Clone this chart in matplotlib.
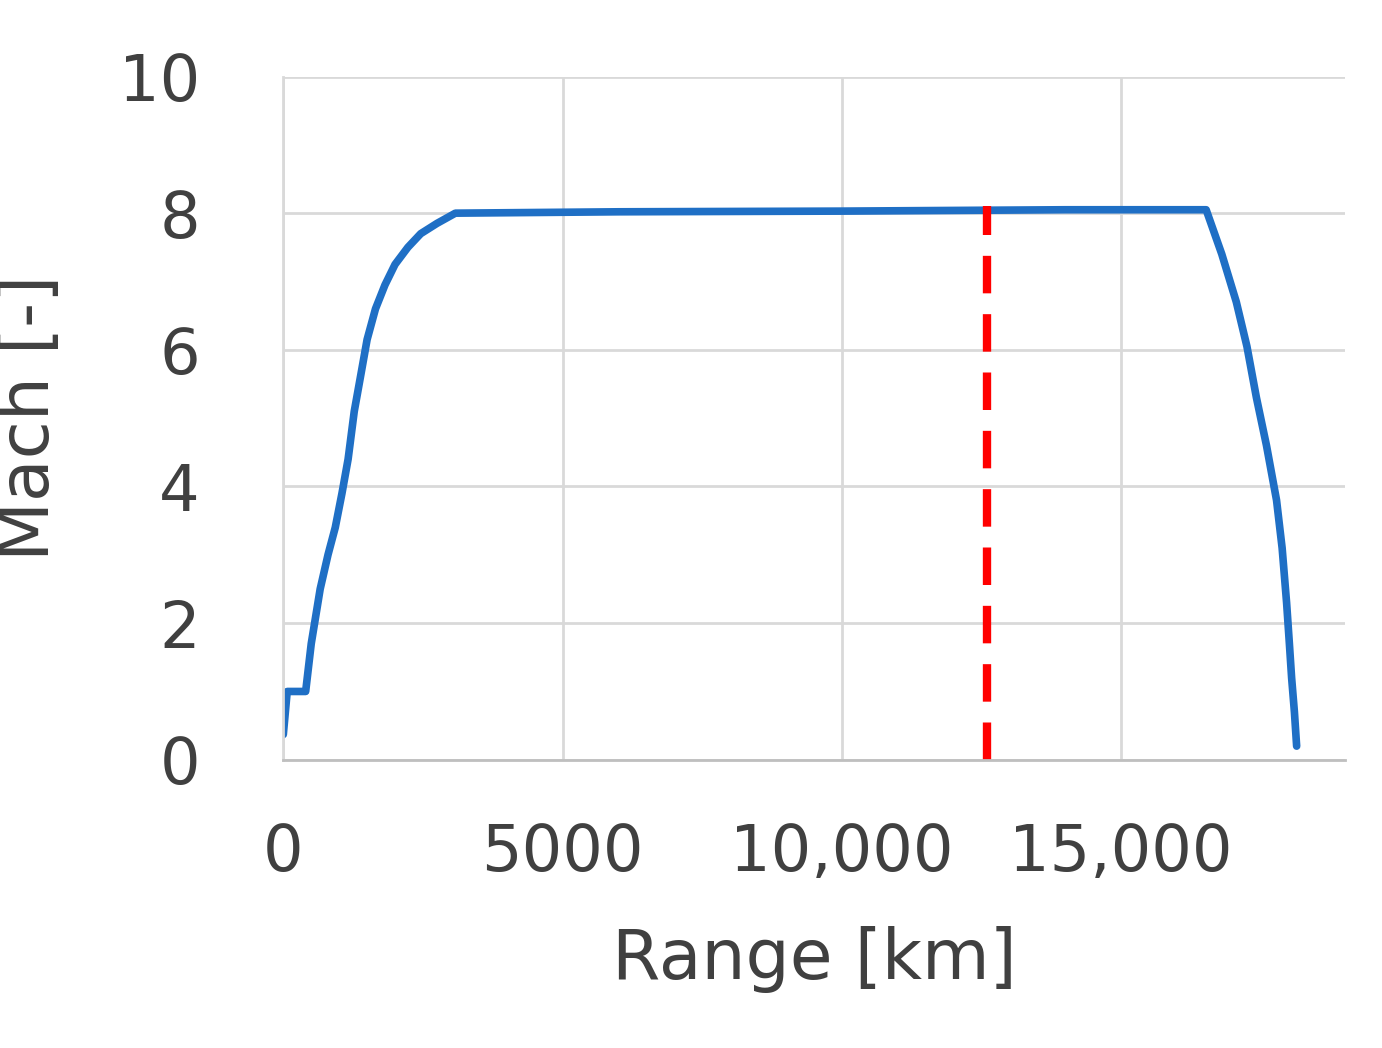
import matplotlib.pyplot as plt
from matplotlib.ticker import FuncFormatter

# Mach profile along the flight
range_km = [0, 70, 400, 500, 660, 800, 930, 1050, 1160, 1270, 1380, 1500, 1650, 1820, 2000,
            2230, 2460, 2750, 3080, 6000, 10000, 14000, 16520, 16800, 17060, 17250, 17420,
            17600, 17780, 17880, 17960, 18010, 18050, 18100, 18140]
mach = [0.37, 1.0, 1.0, 1.7, 2.5, 3.0, 3.4, 3.9, 4.4, 5.1, 5.6, 6.15, 6.6, 6.95, 7.25,
        7.5, 7.7, 7.85, 8.0, 8.02, 8.03, 8.05, 8.05, 7.4, 6.7, 6.05, 5.3,
        4.6, 3.8, 3.1, 2.3, 1.7, 1.2, 0.7, 0.2]
marker_x = 12600

fig = plt.figure(figsize=(13.82, 10.48), dpi=100)
ax = fig.add_axes([0.205, 0.275, 0.768, 0.652])
ax.plot(range_km, mach, color='#1f6fc5', lw=5.5, solid_capstyle='round')
ax.plot([marker_x, marker_x], [0, 8.1], color='#ff0000', lw=6, dashes=(4.5, 2.5))

ax.set_xlim(0, 19000)
ax.set_ylim(0, 10)
ax.set_xticks([0, 5000, 10000, 15000])
ax.set_yticks(range(0, 11, 2))
ax.xaxis.set_major_formatter(FuncFormatter(lambda v, p: '0' if v == 0 else ('5000' if v == 5000 else f'{int(v):,}')))
ax.grid(color='#d9d9d9', lw=2)
ax.set_axisbelow(True)
for s in ['top', 'right']:
    ax.spines[s].set_visible(False)
ax.spines['left'].set_color('#d9d9d9')
ax.spines['left'].set_linewidth(2)
ax.spines['bottom'].set_color('#bfbfbf')
ax.spines['bottom'].set_linewidth(2)
ax.tick_params(axis='x', length=0, labelsize=46, colors='#404040', pad=45)
ax.tick_params(axis='y', length=0, labelsize=46, colors='#404040', pad=60)
ax.set_xlabel('Range [km]', fontsize=50, color='#404040', labelpad=30)
ax.set_ylabel('Mach [-]', fontsize=50, color='#404040', labelpad=40)
fig.savefig('out.png')
